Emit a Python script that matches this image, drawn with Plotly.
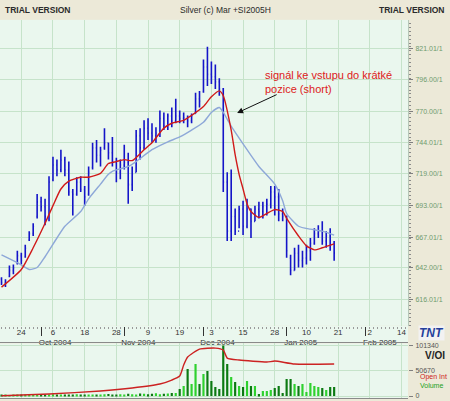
import plotly.graph_objects as go

# daily bars (price in cents, one entry per trading day)
high = [634.3, 632.7, 643.9, 644.7, 656.0, 654.3, 660.8, 672.0, 678.4, 702.4,
        700.0, 698.4, 716.8, 732.8, 730.4, 738.5, 732.8, 728.8, 706.4, 716.0,
        716.8, 708.8, 724.8, 744.1, 746.5, 740.9, 756.1, 744.1, 748.9, 732.0,
        730.4, 742.5, 736.0, 724.8, 754.5, 756.1, 762.5, 764.1, 760.1, 756.9,
        770.5, 768.9, 768.1, 772.9, 780.1, 770.5, 768.9, 766.5, 768.1, 784.9,
        786.5, 812.1, 822.6, 810.5, 808.1, 796.9, 788.9, 720.0, 722.4, 690.4,
        692.8, 696.8, 698.4, 690.4, 692.8, 696.0, 696.0, 698.4, 708.8, 708.8,
        706.4, 690.4, 684.8, 652.7, 658.4, 660.8, 656.0, 660.8, 666.4, 674.4,
        676.8, 680.0, 672.0, 674.4, 664.0]
low = [628.0, 626.3, 634.3, 636.7, 644.7, 644.7, 650.3, 664.0, 668.0, 682.4,
       688.0, 676.8, 680.0, 712.8, 716.8, 720.0, 716.8, 700.8, 684.8, 700.8,
       704.0, 692.8, 700.8, 722.4, 728.0, 724.8, 738.5, 730.4, 724.8, 712.0,
       714.4, 722.4, 694.4, 704.8, 720.0, 730.4, 738.5, 746.5, 744.1, 744.1,
       748.9, 754.5, 754.5, 756.9, 760.1, 760.1, 760.1, 756.9, 760.1, 768.1,
       772.9, 784.9, 790.5, 792.1, 788.1, 782.5, 704.0, 664.0, 664.0, 668.8,
       674.4, 668.8, 674.4, 666.4, 680.0, 682.4, 682.4, 684.8, 690.4, 684.8,
       680.0, 680.0, 650.3, 635.9, 639.9, 642.3, 642.3, 644.7, 647.9, 660.8,
       666.4, 660.8, 658.4, 656.0, 647.9]
open_ = [633, 630, 635, 640, 646, 652, 651, 665, 670, 684,
         696, 692, 684, 714, 726, 722, 730, 722, 704, 702,
         712, 706, 702, 724, 740, 734, 740, 744, 736, 728,
         720, 726, 728, 710, 720, 750, 740, 756, 752, 750,
         752, 764, 758, 766, 762, 766, 764, 764, 762, 768,
         780, 786, 806, 800, 798, 794, 788, 712, 672, 684,
         672, 690, 676, 690, 680, 690, 688, 692, 694, 704,
         700, 686, 684, 650, 640, 654, 648, 650, 656, 662,
         670, 672, 664, 668, 662]
close = [630, 631, 640, 642, 652, 648, 658, 670, 676, 696,
         692, 684, 712, 726, 722, 730, 722, 704, 702, 712,
         706, 700, 720, 740, 734, 738, 744, 736, 728, 720,
         726, 728, 710, 718, 750, 740, 756, 752, 750, 752,
         764, 758, 766, 762, 766, 764, 764.5, 762, 766, 780,
         778, 806, 800, 798, 794, 788, 712, 672, 684, 672,
         690, 676, 690, 680, 690, 688, 692, 694, 704, 700,
         686, 684, 656, 640, 654, 648, 650, 656, 662, 670,
         672, 664, 668, 662, 654]
volume = [1500, 2000, 1200, 2500, 1800, 2200, 1600, 3000, 2400, 2000,
          1400, 1800, 2600, 3600, 2800, 2200, 3200, 2600, 2000, 3800,
          2400, 1800, 2200, 3000, 2600, 2000, 3400, 4200, 3000, 2600,
          3800, 3200, 4800, 3600, 3000, 5200, 4400, 3800, 4600, 5400,
          3600, 4400, 5000, 6000, 6000, 14000, 20000, 54000, 24000, 64000,
          24000, 44000, 50000, 30000, 18000, 14000, 101000, 64000, 38000, 28000,
          20000, 18000, 30000, 20000, 20000, 4000, 10000, 10000, 12000, 16000,
          20000, 6000, 34000, 34000, 24000, 20000, 24000, 8000, 26000, 20000,
          18000, 16000, 12000, 18000, 18000]

# open interest line
oi_day = [0, 12, 25, 33, 40, 43, 45, 46, 47, 50, 54, 56, 57, 60, 67, 69, 74, 84]
oi_value = [500, 4000, 10000, 16000, 24000, 32000, 40000, 62000, 78000, 94000,
            96000, 92000, 76000, 72000, 68000, 70000, 64000, 64000]

# moving averages (red = fast, blue = slow)
fast_day = [0, 5, 8, 11, 13, 15, 17, 20, 22, 25, 27, 29, 31, 33, 36, 38, 41, 43,
            46, 48, 51, 53, 55, 56, 58, 59, 60, 61, 62, 63, 65, 67, 69, 71, 72,
            75, 77, 79, 81, 84]
fast_ma = [626.3, 640.7, 658.4, 678.4, 692.8, 706.4, 712.8, 716.0, 716.0, 719.2,
           727.2, 728.8, 730.4, 729.6, 738.5, 744.1, 756.1, 760.1, 762.5, 766.5,
           773.7, 781.7, 786.5, 782.5, 754.5, 734.4, 718.4, 706.4, 694.4, 688.0,
           683.2, 686.4, 689.6, 688.0, 682.4, 668.0, 660.0, 656.7, 658.4, 661.6]
slow_day = [0, 4, 7, 9, 11, 14, 16, 20, 22, 25, 27, 28, 32, 34, 38, 42, 45, 48,
            51, 53, 55, 56, 58, 62, 65, 69, 71, 72, 75, 78, 81, 84]
slow_ma = [652.7, 646.3, 640.7, 642.3, 651.1, 666.4, 676.0, 688.0, 698.4, 710.4,
           718.4, 720.8, 724.8, 728.8, 738.5, 744.9, 748.9, 754.5, 760.9, 768.9,
           772.9, 768.9, 757.7, 738.5, 724.8, 710.4, 696.8, 686.4, 676.0, 673.6,
           672.0, 668.8]

day_tick_index = [5, 13, 21, 29, 37, 45, 53, 61, 69, 77, 85, 93, 101]
day_tick_text = ["24", "6", "18", "28", "9", "19", "3", "15", "28", "10", "21", "2", "14"]
month_start_index = [10, 31, 51, 72, 92]
month_text = ["Oct 2004", "Nov 2004", "Dec 2004", "Jan 2005", "Feb 2005"]
price_ticks = [616.01, 642.00, 667.01, 693.00, 719.00, 744.01, 770.00, 796.00, 821.01]
price_tick_text = ["616.01/1", "642.00/1", "667.01/1", "693.00/1", "719.00/1",
                   "744.01/1", "770.00/1", "796.00/1", "821.01/1"]
vol_ticks = [0, 50670, 101340]
vol_tick_text = ["0", "50670", "101340"]

W, H = 450, 401
PANEL = "#ECE9D8"
BG = "#EAF7EE"
GRID = "#C6E3CA"
FONT = "Liberation Sans, Arial, sans-serif"

bars = list(range(len(close)))
vol_colors = ["#0c7a12" if c < o else "#2ed12e" for o, c in zip(open_, close)]
x_range = [-0.38, 102.65]
px_w = 408 / W


def py(y_px):
    return (H - y_px) / H


fig = go.Figure()
fig.add_trace(go.Ohlc(
    x=bars, open=open_, high=high, low=low, close=close,
    increasing=dict(line=dict(color="#1414c8", width=1.6)),
    decreasing=dict(line=dict(color="#1414c8", width=1.6)),
    tickwidth=0.22, hoverinfo="skip", xaxis="x", yaxis="y",
))
fig.add_trace(go.Scatter(
    x=slow_day, y=slow_ma, mode="lines",
    line=dict(color="#8ea8d8", width=1.4, shape="spline", smoothing=0.6),
    xaxis="x", yaxis="y",
))
fig.add_trace(go.Scatter(
    x=fast_day, y=fast_ma, mode="lines",
    line=dict(color="#d01a1a", width=1.4, shape="spline", smoothing=0.6),
    xaxis="x", yaxis="y",
))
# keeps the month axis alive, draws nothing
fig.add_trace(go.Scatter(
    x=month_start_index, y=[None] * len(month_start_index), mode="markers",
    hoverinfo="skip", xaxis="x3", yaxis="y",
))
fig.add_trace(go.Bar(
    x=bars, y=volume, marker=dict(color=vol_colors, line=dict(width=0)),
    width=0.55, xaxis="x2", yaxis="y2",
))
fig.add_trace(go.Scatter(
    x=oi_day, y=oi_value, mode="lines",
    line=dict(color="#cc2222", width=1.4, shape="spline", smoothing=0.5),
    xaxis="x2", yaxis="y2",
))

fig.update_layout(
    width=W, height=H, margin=dict(l=0, r=0, t=0, b=0),
    paper_bgcolor=PANEL, plot_bgcolor=BG, showlegend=False,
    font=dict(family=FONT, size=8, color="#333333"),
    xaxis=dict(
        domain=[0, px_w], range=x_range, anchor="y",
        tickmode="array", tickvals=day_tick_index, ticktext=day_tick_text,
        showgrid=True, gridcolor=GRID, gridwidth=1, zeroline=False,
        ticks="", tickfont=dict(size=8, color="#333333"),
        showline=False, rangeslider=dict(visible=False),
        minor=dict(tickmode="linear", tick0=0, dtick=1, ticks="outside",
                   ticklen=2, tickcolor="#9a9a9a", showgrid=False),
    ),
    xaxis3=dict(
        overlaying="x", range=x_range, anchor="y", side="bottom",
        tickmode="array", tickvals=month_start_index, ticktext=month_text,
        ticks="outside", ticklen=9, tickcolor="#333333", showgrid=False,
        zeroline=False, ticklabelshift=14, ticklabelstandoff=0,
        tickfont=dict(size=8, color="#333333"),
    ),
    yaxis=dict(
        domain=[py(326), py(18)], range=[594.9, 844.5], side="right", anchor="x",
        tickmode="array", tickvals=price_ticks, ticktext=price_tick_text,
        showgrid=True, gridcolor=GRID, zeroline=False,
        ticks="outside", ticklen=4, tickcolor="#808080",
        tickfont=dict(size=7, color="#6e9b6e"), ticklabelstandoff=1,
        showline=True, linecolor="#b8c8b8",
        minor=dict(tickmode="linear", tick0=0, dtick=3.2, ticks="outside",
                   ticklen=2, tickcolor="#8a8a8a", showgrid=False),
    ),
    xaxis2=dict(
        domain=[0, px_w], range=x_range, anchor="y2",
        tickmode="array", tickvals=day_tick_index, showticklabels=False,
        showgrid=True, gridcolor=GRID, zeroline=False, ticks="",
        showline=True, mirror=True, linecolor="#8a8a8a",
    ),
    yaxis2=dict(
        domain=[py(399), py(344)], range=[-3974, 105314], side="right", anchor="x2",
        tickmode="array", tickvals=vol_ticks, ticktext=vol_tick_text,
        showgrid=True, gridcolor=GRID, zeroline=False,
        ticks="outside", ticklen=4, tickcolor="#808080",
        tickfont=dict(size=7, color="#555555"), ticklabelstandoff=1,
    ),
    shapes=[
        dict(type="rect", xref="paper", yref="paper", x0=0, x1=px_w,
             y0=py(343), y1=py(326), fillcolor=BG, line=dict(width=0), layer="below"),
    ],
)

annotations = [
    dict(text="<b>TRIAL VERSION</b>", x=3 / W, y=py(8), xanchor="left",
         font=dict(size=8.5, color="#2b2b2b")),
    dict(text="<b>TRIAL VERSION</b>", x=447 / W, y=py(8), xanchor="right",
         font=dict(size=8.5, color="#2b2b2b")),
    dict(text="Silver (c) Mar +SI2005H", x=225 / W, y=py(8), xanchor="center",
         font=dict(size=8.5, color="#2b2b2b")),
    dict(text="<b>V/OI</b>", x=423 / W, y=py(356), xanchor="left",
         font=dict(size=10, color="#222222")),
    dict(text="Open Int", x=418 / W, y=py(378), xanchor="left",
         font=dict(size=7, color="#cc2222")),
    dict(text="Volume", x=418 / W, y=py(386), xanchor="left",
         font=dict(size=7, color="#22a022")),
    dict(text="<b><i>TNT</i></b>", x=431 / W, y=py(333), xanchor="center",
         font=dict(size=12, color="#25409c"), bgcolor="#f2f2f2", borderpad=0),
]
for a in annotations:
    a.update(xref="paper", yref="paper", yanchor="middle", showarrow=False)

annotations += [
    dict(text="signál ke vstupu do krátké<br>pozice (short)", x=66.0, y=806.0,
         xref="x", yref="y", xanchor="left", yanchor="top", align="left",
         showarrow=False, font=dict(size=11, color="#dd2020")),
    dict(text="", x=59.5, y=768.5, xref="x", yref="y", ax=41, ay=-19,
         showarrow=True, arrowhead=2, arrowsize=1.2, arrowwidth=1,
         arrowcolor="#111111"),
]
fig.update_layout(annotations=annotations)

fig.write_html("out.html", config={"displayModeBar": False},
               post_script="document.body.style.margin='0';")
